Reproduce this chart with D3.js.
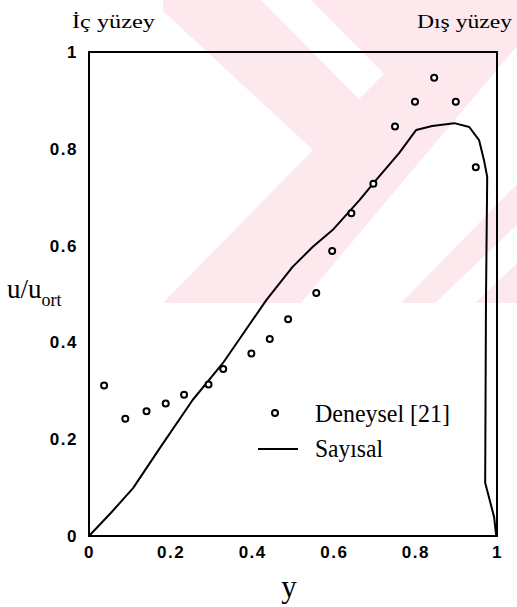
<!DOCTYPE html>
<html>
<head>
<meta charset="utf-8">
<script src="https://cdn.jsdelivr.net/npm/d3@7"></script>
<style>
  body { margin: 0; background: #fff; }
  svg { display: block; }
</style>
</head>
<body>
<svg id="chart" width="517" height="607"></svg>
<script>
// Axis ticks
const xTicks = [0, 0.2, 0.4, 0.6, 0.8, 1];
const xTickLabels = ["0", "0.2", "0.4", "0.6", "0.8", "1"];
const yTicks = [0, 0.2, 0.4, 0.6, 0.8, 1];
const yTickLabels = ["0", "0.2", "0.4", "0.6", "0.8", "1"];

// Experimental profile (Deneysel [21])
const expY = [0.037, 0.089, 0.141, 0.188, 0.233, 0.293, 0.329, 0.398, 0.443, 0.488,
              0.557, 0.596, 0.643, 0.697, 0.750, 0.799, 0.846, 0.899, 0.948];
const expU = [0.311, 0.242, 0.258, 0.274, 0.292, 0.313, 0.345, 0.377, 0.407, 0.448,
              0.502, 0.589, 0.667, 0.728, 0.846, 0.897, 0.947, 0.897, 0.762];

// Numerical profile (Sayısal)
const numY = [0, 0.054, 0.108, 0.174, 0.254, 0.328, 0.435, 0.499, 0.548, 0.597, 0.663,
              0.704, 0.760, 0.802, 0.841, 0.895, 0.932, 0.956, 0.968, 0.976, 0.973,
              0.971, 0.993, 0.998];
const numU = [0, 0.048, 0.099, 0.182, 0.281, 0.357, 0.488, 0.556, 0.597, 0.632, 0.694,
              0.736, 0.791, 0.839, 0.847, 0.853, 0.845, 0.818, 0.777, 0.742, 0.488,
              0.110, 0.039, 0];

const legendLabels = ["Deneysel [21]", "Sayısal"];
const sideLabels = ["İç yüzey", "Dış yüzey"];

const svg = d3.select("#chart");
const W = 517, H = 607;
const margin = { left: 89, right: 20, top: 52, bottom: 71 };

const x = d3.scaleLinear().domain([0, 1]).range([margin.left, W - margin.right]);
const y = d3.scaleLinear().domain([0, 1]).range([H - margin.bottom, margin.top]);

// Faint striped background emblem
const wm = svg.append("g").attr("class", "emblem");
const clip = svg.append("defs").append("clipPath").attr("id", "emblemClip");
clip.append("rect").attr("x", 163).attr("y", 0).attr("width", 354).attr("height", 303);
const wmg = wm.append("g").attr("clip-path", "url(#emblemClip)");
wmg.append("rect").attr("x", 163).attr("y", 0).attr("width", 354).attr("height", 303)
  .attr("fill", "#fde9ed");
const gaps = [
  [[150, -1], [313, 150], [150, 316]],
  [[260, -1], [310, -1], [384, 74], [359, 99]],
  [[300, 304], [517, 46], [518, 183], [400, 304]],
  [[434, 304], [518, 224], [518, 262], [474, 304]]
];
wmg.selectAll("path.gap").data(gaps).join("path")
  .attr("class", "gap")
  .attr("d", d => d3.line()(d) + "Z")
  .attr("fill", "#ffffff");

// Plot frame
svg.append("rect")
  .attr("x", x(0)).attr("y", y(1))
  .attr("width", x(1) - x(0)).attr("height", y(0) - y(1))
  .attr("fill", "none").attr("stroke", "#000").attr("stroke-width", 2);

// Axes (labels only; the frame draws the box)
const tickFont = "'Liberation Sans', Arial, sans-serif";
const gx = svg.append("g").attr("transform", `translate(0,${y(0)})`)
  .call(d3.axisBottom(x).tickValues(xTicks)
    .tickFormat((d, i) => xTickLabels[i]).tickSize(0).tickPadding(10));
gx.select(".domain").remove();
gx.selectAll("text")
  .attr("dy", "0.71em")
  .style("font-family", tickFont).style("font-size", "17px").style("font-weight", "bold")
  .style("letter-spacing", "1.5px").attr("fill", "#000");

const gy = svg.append("g").attr("transform", `translate(${x(0)},0)`)
  .call(d3.axisLeft(y).tickValues(yTicks)
    .tickFormat((d, i) => yTickLabels[i]).tickSize(0).tickPadding(11));
gy.select(".domain").remove();
gy.selectAll("text")
  .style("font-family", tickFont).style("font-size", "17px").style("font-weight", "bold")
  .style("letter-spacing", "1.5px").attr("fill", "#000");

// Numerical curve
const numData = numY.map((v, i) => [v, numU[i]]);
svg.append("path")
  .datum(numData)
  .attr("d", d3.line().x(d => x(d[0])).y(d => y(d[1])))
  .attr("fill", "none").attr("stroke", "#000").attr("stroke-width", 2)
  .attr("stroke-linejoin", "round");

// Experimental points
const expData = expY.map((v, i) => [v, expU[i]]);
svg.selectAll("circle.exp").data(expData).join("circle")
  .attr("class", "exp")
  .attr("cx", d => x(d[0])).attr("cy", d => y(d[1]))
  .attr("r", 3).attr("fill", "#fff").attr("stroke", "#000").attr("stroke-width", 2);

// Titles
const serif = "'Liberation Serif', 'Times New Roman', serif";
svg.append("text").attr("x", 72).attr("y", 28)
  .attr("textLength", 83).attr("lengthAdjust", "spacingAndGlyphs")
  .style("font-family", serif).style("font-size", "19px").text(sideLabels[0]);
svg.append("text").attr("x", 417).attr("y", 28)
  .attr("textLength", 95).attr("lengthAdjust", "spacingAndGlyphs")
  .style("font-family", serif).style("font-size", "19px").text(sideLabels[1]);

const yl = svg.append("text").attr("x", 7).attr("y", 298)
  .style("font-family", serif).style("font-size", "27px");
yl.append("tspan").text("u/u");
yl.append("tspan").attr("dy", 8).style("font-size", "18px").text("ort");

svg.append("text").attr("x", 289).attr("y", 597).attr("text-anchor", "middle")
  .style("font-family", serif).style("font-size", "31px").text("y");

// Legend
const lg = svg.append("g");
lg.append("circle").attr("cx", 275).attr("cy", 413).attr("r", 3)
  .attr("fill", "#fff").attr("stroke", "#000").attr("stroke-width", 2);
lg.append("text").attr("x", 315).attr("y", 422)
  .attr("textLength", 135).attr("lengthAdjust", "spacingAndGlyphs")
  .style("font-family", serif).style("font-size", "26px").text(legendLabels[0]);
lg.append("line").attr("x1", 258).attr("x2", 298).attr("y1", 449).attr("y2", 449)
  .attr("stroke", "#000").attr("stroke-width", 2);
lg.append("text").attr("x", 315).attr("y", 457)
  .attr("textLength", 68).attr("lengthAdjust", "spacingAndGlyphs")
  .style("font-family", serif).style("font-size", "26px").text(legendLabels[1]);
</script>
</body>
</html>
